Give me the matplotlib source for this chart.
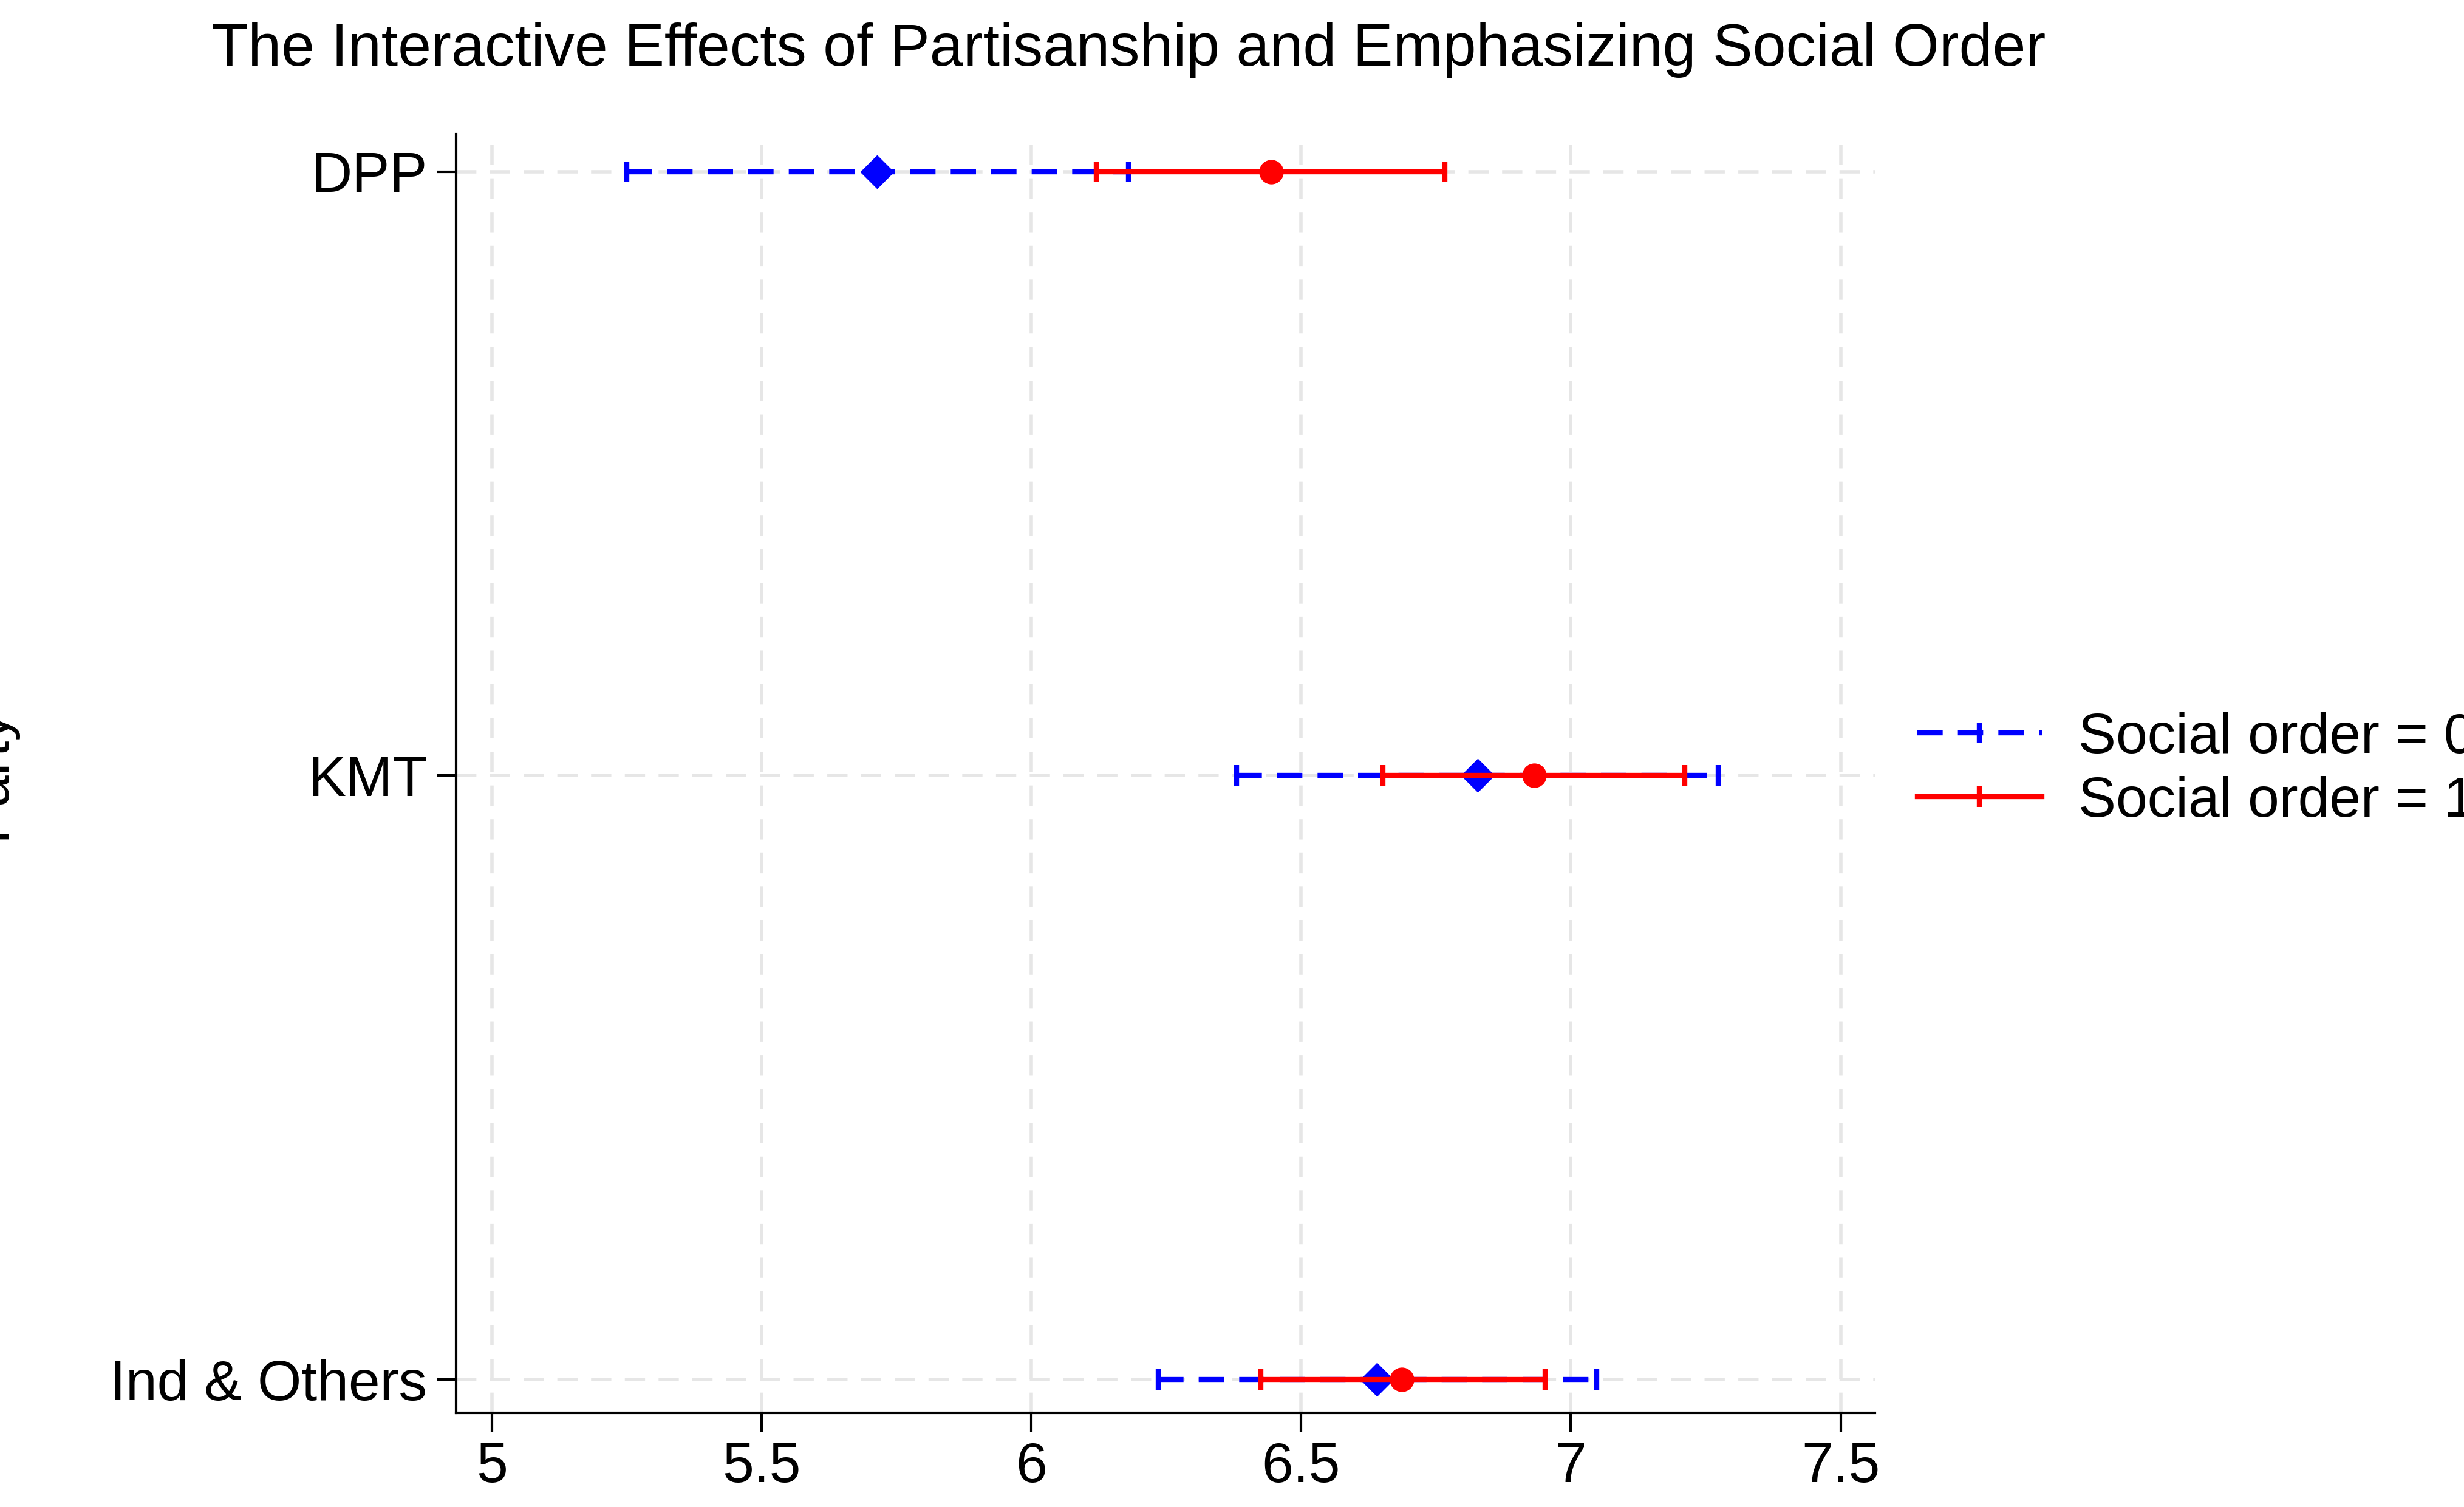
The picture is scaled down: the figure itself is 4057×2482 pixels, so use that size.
import matplotlib
matplotlib.use("Agg")
import matplotlib.pyplot as plt
from matplotlib.lines import Line2D

parties = ["Ind & Others", "KMT", "DPP"]
# Social order = 0
est0 = [6.64, 6.827, 5.714]
lo0 = [6.235, 6.38, 5.25]
hi0 = [7.048, 7.273, 6.18]
# Social order = 1
est1 = [6.687, 6.932, 6.445]
lo1 = [6.425, 6.652, 6.12]
hi1 = [6.952, 7.211, 6.766]

x_ticks = [5, 5.5, 6, 6.5, 7, 7.5]

plt.rcParams['font.family'] = ['Liberation Sans', 'DejaVu Sans']
fig = plt.figure(figsize=(40.57, 24.82), dpi=100)
ax = fig.add_axes([0.185, 0.0625, 0.576, 0.8485])

ypos = list(range(len(parties)))

for x in x_ticks:
    ax.axvline(x, color='#e6e6e6', lw=4, ls=(0, (6, 4)), zorder=0)
for y in ypos:
    ax.axhline(y, color='#e6e6e6', lw=4, ls=(0, (6, 4)), zorder=0)

err0 = [[e - l for e, l in zip(est0, lo0)], [h - e for e, h in zip(est0, hi0)]]
err1 = [[e - l for e, l in zip(est1, lo1)], [h - e for e, h in zip(est1, hi1)]]

eb0 = ax.errorbar(est0, ypos, xerr=err0, fmt='D', color='blue', ms=28,
                  elinewidth=6, capsize=12, capthick=6, zorder=3)
eb0[-1][0].set_linestyle((0, (5, 3)))
ax.errorbar(est1, ypos, xerr=err1, fmt='o', color='red', ms=28,
            elinewidth=6, capsize=12, capthick=6, zorder=4)

ax.set_xlim(4.933, 7.564)
ax.set_ylim(-0.055, 2.062)
ax.set_xticks(x_ticks)
ax.set_xticklabels(['5', '5.5', '6', '6.5', '7', '7.5'])
ax.set_yticks(ypos)
ax.set_yticklabels(parties)
ax.tick_params(labelsize=67, length=22, width=3, pad=12)
for s in ['top', 'right']:
    ax.spines[s].set_visible(False)
for s in ['left', 'bottom']:
    ax.spines[s].set_linewidth(3)

ax.set_ylabel('Party', fontsize=67)
ax.yaxis.set_label_coords(-0.31, 0.5)

fig.text(0.458, 0.985, 'The Interactive Effects of Partisanship and Emphasizing Social Order',
         fontsize=71, ha='center', va='top')

handles = [
    Line2D([0], [0], color='blue', lw=6, ls=(0, (5, 3)), marker='|', ms=24, mew=6, markevery=[0, -1]),
    Line2D([0], [0], color='red', lw=6, marker='|', ms=24, mew=6, markevery=[0, -1]),
]
fig.legend(handles, ['Social order = 0', 'Social order = 1'], loc='center left',
           bbox_to_anchor=(0.769, 0.489), frameon=False, fontsize=67,
           handlelength=2.2, labelspacing=0.2, handletextpad=0.65, borderaxespad=0)

fig.savefig('out.png', dpi=100, facecolor='white')
